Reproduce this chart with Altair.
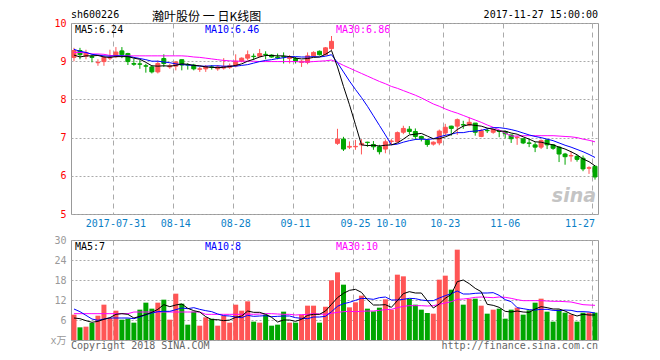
import altair as alt
import pandas as pd

# ---------------- data ----------------
month_days = [
    ("07", [20, 21, 24, 25, 26, 27, 28, 31]),
    ("08", [1, 2, 3, 4, 7, 8, 9, 10, 11, 14, 15, 16, 17, 18, 21, 22, 23, 24, 25, 28, 29, 30, 31]),
    ("09", [1, 4, 5, 6, 7, 8, 11, 12, 13, 14, 15, 18, 19, 20, 21, 22, 25, 26, 27, 28, 29]),
    ("10", [9, 10, 11, 12, 13, 16, 17, 18, 19, 20, 23, 24, 25, 26, 27, 30, 31]),
    ("11", [1, 2, 3, 6, 7, 8, 9, 10, 13, 14, 15, 16, 17, 20, 21, 22, 23, 24, 27]),
]
dates = [f"2017-{m}-{d:02d}" for m, ds in month_days for d in ds]

tick_dates = ["2017-07-31", "2017-08-14", "2017-08-28", "2017-09-11", "2017-09-25",
              "2017-10-10", "2017-10-23", "2017-11-06", "2017-11-27"]
tick_labels = ["2017-07-31", "08-14", "08-28", "09-11", "09-25",
               "10-10", "10-23", "11-06", "11-27"]

open_ = [9.10, 9.28, 9.13, 9.12, 8.96, 8.99, 9.08, 9.12, 9.27, 9.20,
         8.94, 8.93, 8.88, 8.85, 8.72, 9.07, 8.85, 8.87, 9.04, 8.91,
         8.90, 8.79, 8.80, 8.85, 8.80, 8.82, 8.84, 8.88, 9.00, 9.08,
         9.13, 9.13, 9.18, 9.16, 9.11, 9.12, 9.07, 9.07, 8.97, 8.97,
         9.14, 9.26, 9.17, 9.33, 6.85, 6.96, 6.75, 6.76, 6.81, 6.88,
         6.82, 6.76, 6.70, 6.90, 6.89, 7.14, 7.22, 7.16, 7.03, 6.93,
         6.83, 6.86, 7.12, 7.30, 7.30, 7.34, 7.33, 7.38, 7.03, 7.19,
         7.14, 7.17, 7.16, 7.07, 7.00, 6.97, 6.86, 6.81, 6.75, 6.94,
         6.81, 6.75, 6.57, 6.52, 6.51, 6.46, 6.20, 6.25]
close = [9.28, 9.17, 9.22, 9.10, 8.97, 9.10, 9.10, 9.24, 9.17, 8.99,
         8.92, 8.92, 8.87, 8.72, 8.94, 8.94, 8.88, 8.98, 8.90, 8.90,
         8.80, 8.80, 8.86, 8.84, 8.85, 8.86, 8.88, 9.00, 9.08, 9.17,
         9.12, 9.20, 9.17, 9.11, 9.09, 9.11, 9.11, 9.00, 9.00, 9.14,
         9.23, 9.17, 9.35, 9.52, 6.96, 6.70, 6.77, 6.77, 6.85, 6.87,
         6.76, 6.63, 6.89, 6.91, 7.13, 7.24, 7.16, 7.03, 6.97, 6.82,
         6.88, 7.17, 7.27, 7.24, 7.47, 7.33, 7.40, 7.14, 7.18, 7.18,
         7.21, 7.16, 7.10, 6.97, 7.01, 6.86, 6.85, 6.75, 6.92, 6.81,
         6.72, 6.57, 6.50, 6.53, 6.43, 6.18, 6.21, 5.97]
high = [9.35, 9.35, 9.30, 9.17, 9.05, 9.14, 9.30, 9.37, 9.37, 9.22,
        9.07, 9.03, 8.93, 8.89, 9.02, 9.18, 8.93, 9.00, 9.04, 8.95,
        8.93, 8.85, 8.90, 8.90, 8.90, 9.08, 8.94, 9.18, 9.10, 9.28,
        9.20, 9.32, 9.26, 9.18, 9.20, 9.23, 9.16, 9.11, 9.03, 9.23,
        9.26, 9.28, 9.37, 9.66, 7.23, 7.02, 6.90, 6.94, 6.96, 6.89,
        6.91, 6.81, 6.95, 6.96, 7.16, 7.31, 7.30, 7.24, 7.05, 6.96,
        6.90, 7.21, 7.36, 7.31, 7.50, 7.44, 7.53, 7.38, 7.23, 7.24,
        7.24, 7.20, 7.18, 7.07, 7.05, 6.98, 6.97, 6.88, 6.95, 6.95,
        6.83, 6.77, 6.60, 6.64, 6.55, 6.53, 6.25, 6.27]
low = [9.00, 9.05, 9.05, 8.97, 8.88, 8.88, 9.03, 9.08, 9.08, 8.90,
       8.88, 8.80, 8.70, 8.68, 8.68, 8.85, 8.80, 8.76, 8.76, 8.78,
       8.76, 8.72, 8.72, 8.78, 8.75, 8.78, 8.80, 8.84, 8.97, 9.03,
       9.03, 9.10, 9.05, 9.09, 9.05, 8.94, 8.94, 8.94, 8.85, 8.92,
       9.11, 9.15, 9.15, 9.29, 6.81, 6.65, 6.70, 6.68, 6.56, 6.76,
       6.68, 6.56, 6.59, 6.82, 6.87, 7.09, 7.09, 6.94, 6.90, 6.76,
       6.79, 6.80, 7.05, 7.05, 7.07, 7.23, 7.30, 7.05, 7.01, 7.12,
       7.10, 7.01, 6.98, 6.86, 6.81, 6.83, 6.75, 6.62, 6.70, 6.70,
       6.68, 6.36, 6.29, 6.37, 6.37, 6.12, 6.05, 5.90]
ma5 = [9.16, 9.11, 9.14, 9.14, 9.15, 9.11, 9.10, 9.12, 9.12, 9.12,
       9.08, 9.05, 8.97, 8.88, 8.87, 8.88, 8.87, 8.89, 8.93, 8.92,
       8.89, 8.88, 8.85, 8.84, 8.83, 8.84, 8.86, 8.89, 8.93, 9.00,
       9.05, 9.11, 9.15, 9.15, 9.14, 9.14, 9.12, 9.08, 9.06, 9.07,
       9.10, 9.11, 9.18, 9.28, 8.85, 8.34, 7.86, 7.34, 6.81, 6.79,
       6.80, 6.78, 6.80, 6.81, 6.86, 6.96, 7.07, 7.09, 7.11, 7.04,
       6.97, 6.97, 7.02, 7.08, 7.21, 7.30, 7.34, 7.32, 7.30, 7.25,
       7.22, 7.17, 7.17, 7.12, 7.09, 7.02, 6.96, 6.89, 6.88, 6.84,
       6.81, 6.75, 6.70, 6.63, 6.55, 6.44, 6.37, 6.26]
ma10 = [9.31, 9.26, 9.23, 9.18, 9.16, 9.14, 9.13, 9.14, 9.14, 9.13,
        9.10, 9.07, 9.04, 9.00, 9.00, 8.98, 8.96, 8.93, 8.91, 8.90,
        8.89, 8.87, 8.87, 8.88, 8.88, 8.87, 8.87, 8.87, 8.89, 8.91,
        8.95, 8.99, 9.02, 9.04, 9.07, 9.09, 9.12, 9.12, 9.11, 9.11,
        9.12, 9.11, 9.13, 9.17, 8.96, 8.72, 8.48, 8.26, 8.05, 7.82,
        7.57, 7.32, 7.07, 6.81, 6.83, 6.88, 6.92, 6.95, 6.96, 6.95,
        6.97, 7.02, 7.06, 7.09, 7.13, 7.13, 7.16, 7.17, 7.19, 7.23,
        7.26, 7.26, 7.24, 7.21, 7.17, 7.12, 7.07, 7.03, 7.00, 6.96,
        6.92, 6.86, 6.80, 6.75, 6.69, 6.63, 6.56, 6.48]
ma30 = [9.23, 9.23, 9.22, 9.19, 9.19, 9.18, 9.15, 9.14, 9.14, 9.14,
        9.14, 9.14, 9.14, 9.14, 9.14, 9.14, 9.14, 9.14, 9.14, 9.13,
        9.11, 9.10, 9.08, 9.06, 9.04, 9.02, 9.01, 9.00, 9.00, 9.00,
        9.00, 8.99, 8.99, 8.99, 8.99, 8.99, 8.99, 8.99, 8.98, 8.98,
        8.99, 9.00, 9.01, 9.03, 8.97, 8.89, 8.82, 8.75, 8.68, 8.61,
        8.54, 8.47, 8.41, 8.34, 8.29, 8.23, 8.17, 8.11, 8.04, 7.96,
        7.88, 7.82, 7.75, 7.69, 7.64, 7.58, 7.52, 7.46, 7.40, 7.33,
        7.27, 7.20, 7.12, 7.04, 7.04, 7.05, 7.05, 7.05, 7.05, 7.05,
        7.05, 7.04, 7.03, 7.02, 7.00, 6.96, 6.93, 6.89]
volume = [7.6, 3.8, 4.0, 5.1, 7.3, 10.6, 6.6, 8.8, 6.1, 6.4,
          5.2, 9.1, 11.2, 9.4, 11.2, 12.1, 6.1, 13.9, 10.9, 4.6,
          8.5, 4.3, 6.8, 6.4, 4.3, 7.3, 5.2, 10.6, 8.8, 11.6,
          5.5, 5.2, 7.6, 4.3, 4.6, 8.5, 5.2, 5.2, 7.6, 10.3,
          10.3, 5.2, 10.0, 17.9, 20.3, 16.6, 9.8, 11.3, 13.3, 9.4,
          8.6, 9.7, 12.2, 9.1, 19.6, 19.1, 12.3, 10.6, 9.1, 8.1,
          7.9, 18.1, 19.3, 15.1, 27.1, 10.6, 12.3, 12.4, 10.3, 7.9,
          9.1, 9.4, 6.4, 9.1, 9.7, 7.6, 8.9, 11.2, 12.4, 8.5,
          5.5, 9.1, 8.2, 7.6, 5.5, 8.2, 8.2, 8.2]
vma5 = [6.6, 6.4, 5.8, 5.3, 5.6, 6.2, 6.7, 7.7, 7.9, 7.7,
        6.6, 7.1, 7.6, 8.3, 9.2, 10.6, 10.0, 10.5, 10.8, 9.5,
        8.8, 8.4, 7.0, 6.1, 6.1, 5.8, 6.0, 6.8, 7.2, 8.7,
        8.3, 8.3, 7.7, 6.8, 5.4, 6.0, 6.0, 5.6, 6.2, 7.4,
        7.7, 7.7, 8.7, 10.7, 12.7, 14.0, 14.9, 15.2, 14.3, 12.1,
        10.5, 10.5, 10.6, 9.8, 11.8, 13.9, 14.5, 14.1, 14.1, 11.8,
        9.6, 10.8, 12.5, 13.7, 17.5, 18.0, 16.9, 15.5, 14.5, 10.7,
        10.4, 9.8, 8.6, 8.4, 8.7, 8.4, 8.3, 9.3, 10.0, 9.7,
        9.3, 9.3, 8.7, 7.8, 7.2, 7.7, 7.5, 7.5]
vma10 = [9.3, 8.5, 7.4, 6.3, 5.9, 6.3, 6.6, 6.6, 6.6, 6.6,
         6.4, 6.9, 7.6, 8.1, 8.5, 8.6, 8.6, 9.1, 9.6, 9.4,
         9.7, 9.2, 8.8, 8.5, 7.8, 7.3, 7.2, 6.9, 6.7, 7.4,
         7.1, 7.2, 7.3, 7.0, 7.1, 7.2, 7.2, 6.7, 6.5, 6.4,
         6.9, 6.9, 7.1, 8.5, 10.1, 10.9, 11.3, 11.9, 12.5, 12.4,
         12.2, 12.7, 12.9, 12.0, 12.0, 12.2, 12.5, 12.4, 12.0, 11.8,
         11.8, 12.6, 13.3, 13.9, 14.7, 13.8, 13.8, 14.0, 14.1, 14.1,
         14.2, 13.4, 12.1, 11.5, 9.7, 9.4, 9.1, 9.0, 9.2, 9.2,
         8.9, 8.8, 9.0, 8.9, 8.5, 8.5, 8.4, 8.1]
vma30 = [7.9, 7.9, 7.9, 7.9, 7.9, 7.9, 7.9, 7.9, 7.9, 7.9,
         8.4, 8.4, 8.4, 8.4, 8.4, 8.4, 8.4, 8.4, 8.4, 8.4,
         8.4, 8.4, 7.7, 7.7, 7.7, 7.7, 7.7, 7.7, 7.7, 7.8,
         7.7, 7.8, 7.9, 7.9, 7.8, 7.7, 7.7, 7.5, 7.6, 7.7,
         7.9, 7.8, 7.7, 8.0, 8.3, 8.5, 8.6, 8.5, 8.6, 8.7,
         8.7, 8.9, 9.1, 9.2, 9.7, 10.1, 10.3, 10.3, 10.3, 10.2,
         10.3, 10.7, 11.1, 11.5, 12.2, 12.3, 12.5, 12.8, 12.9, 12.8,
         12.7, 12.9, 12.8, 12.5, 12.1, 11.8, 11.8, 11.8, 11.8, 11.7,
         11.6, 11.6, 11.5, 11.4, 11.0, 10.6, 10.5, 10.4]

price_ticks = [5, 6, 7, 8, 9, 10]
vol_ticks = [0, 6, 12, 18, 24, 30]

df = pd.DataFrame({
    "date": dates, "open": open_, "close": close, "high": high, "low": low,
    "ma5": ma5, "ma10": ma10, "ma30": ma30,
    "volume": volume, "vma5": vma5, "vma10": vma10, "vma30": vma30,
})
one = pd.DataFrame({"k": [0]})

# ---------------- styles ----------------
RED = "#ff5555"
GREEN = "#00a600"
GRID = "#aaaaaa"
MONO = "DejaVu Sans Mono"
CJK = "Noto Sans CJK SC"
XBLUE = "#0b7fc7"
W, H1, H2 = 527, 191, 100

up = "datum.close >= datum.open"
label_expr = " : ".join(f"datum.value == '{d}' ? '{l}'" for d, l in zip(tick_dates, tick_labels)) + " : ''"

xscale = alt.Scale(domain=dates, paddingInner=0, paddingOuter=0)
main_xaxis = alt.Axis(values=tick_dates, labelExpr=label_expr, labelAngle=0, labelColor=XBLUE,
                      labelFont=MONO, labelFontSize=10, labelPadding=4, labelBaseline="top",
                      labelOverlap=False,
                      labelAlign={"condition": {"test": "datum.value == '2017-11-27'", "value": "right"},
                                  "value": "center"},
                      ticks=False, domain=False, grid=True, gridColor=GRID, gridDash=[5, 4],
                      bandPosition=0.15)
vol_xaxis = alt.Axis(values=tick_dates, labels=False, ticks=False, domain=False, grid=True,
                     gridColor=GRID, gridDash=[5, 4], bandPosition=0.15)
pscale = alt.Scale(domain=[5, 10], nice=False, zero=False)
pyaxis = alt.Axis(values=price_ticks, labelColor="#ff0000", labelFont=MONO, labelFontSize=10,
                  labelPadding=5, labelFlush=False, ticks=False, domain=False, grid=True,
                  gridColor=GRID, gridDash=[2, 2])
vscale = alt.Scale(domain=[0, 30], nice=False, zero=True)
vyaxis = alt.Axis(values=vol_ticks, labelExpr="datum.value == 0 ? 'x万' : datum.label",
                  labelColor="#999999", labelFont=f"{MONO}, {CJK}", labelFontSize=10,
                  labelPadding=5, labelFlush=False, ticks=False, domain=False, grid=True,
                  gridColor=GRID, gridDash=[2, 2])

def X(axis):
    return alt.X("date:O", scale=xscale, axis=axis, title=None)

def PY(field):
    return alt.Y(f"{field}:Q", scale=pscale, axis=pyaxis, title=None)

def VY(field):
    return alt.Y(f"{field}:Q", scale=vscale, axis=vyaxis, title=None)

def label(text, x, y, color="black", size=10, font=MONO, align="left", baseline="middle", **kw):
    return alt.Chart(one).mark_text(align=align, baseline=baseline, font=font, fontSize=size,
                                    color=color, **kw).encode(
        x=alt.value(x), y=alt.value(y), text=alt.value(text))

base = alt.Chart(df)

wicks = base.mark_rule(strokeWidth=1).encode(
    x=X(main_xaxis), y=PY("low"), y2="high",
    color=alt.condition(up, alt.value(RED), alt.value(GREEN)))
bodies = base.mark_bar(width=4, strokeWidth=1).encode(
    x=X(main_xaxis), y=PY("open"), y2="close",
    fill=alt.condition(up, alt.value(RED), alt.value(GREEN)),
    stroke=alt.condition(up, alt.value(RED), alt.value(GREEN)))
l5 = base.mark_line(color="black", strokeWidth=1).encode(x=X(main_xaxis), y=PY("ma5"))
l10 = base.mark_line(color="#0000ff", strokeWidth=1).encode(x=X(main_xaxis), y=PY("ma10"))
l30 = base.mark_line(color="#ff00ff", strokeWidth=1).encode(x=X(main_xaxis), y=PY("ma30"))

main = alt.layer(
    wicks, bodies, l30, l10, l5,
    label("MA5:6.24", 4, 7),
    label("MA10:6.46", 134, 7, color="#0000ff"),
    label("MA30:6.86", 265, 7, color="#ff00ff"),
    label("sh600226", 0, -13, baseline="top"),
    label("瀚叶股份 一 日K线图", 81, -11.5, size=12, font=CJK, baseline="top"),
    label("2017-11-27 15:00:00", W, -13, align="right", baseline="top"),
    label("sina", W - 2, 173, color="#c4c4c4", size=19, font="DejaVu Sans",
          fontWeight="bold", fontStyle="italic", align="right"),
).properties(width=W, height=H1)

vbars = base.mark_bar(width=5).encode(
    x=X(vol_xaxis), y=VY("volume"),
    color=alt.condition(up, alt.value(RED), alt.value(GREEN)))
v5 = base.mark_line(color="black", strokeWidth=1).encode(x=X(vol_xaxis), y=VY("vma5"))
v10 = base.mark_line(color="#0000ff", strokeWidth=1).encode(x=X(vol_xaxis), y=VY("vma10"))
v30 = base.mark_line(color="#ff00ff", strokeWidth=1).encode(x=X(vol_xaxis), y=VY("vma30"))

vol = alt.layer(
    vbars, v30, v10, v5,
    label("MA5:7", 4, 7),
    label("MA10:8", 134, 7, color="#0000ff"),
    label("MA30:10", 265, 7, color="#ff00ff"),
    label("Copyright 2018 SINA.COM", 0, H2 + 6, color="#666666"),
    label("http://finance.sina.com.cn", W, H2 + 6, color="#666666", align="right"),
).properties(width=W, height=H2)

chart = alt.vconcat(main, vol, spacing=5).properties(
    padding={"left": 41, "top": 1, "right": 0, "bottom": 0},
    background="white",
).configure_view(stroke="#999999", strokeWidth=1)

chart.save("out.html", embed_options={"renderer": "svg", "actions": False})
